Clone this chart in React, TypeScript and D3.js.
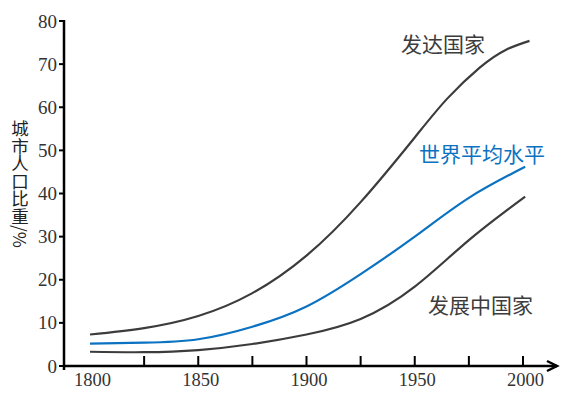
import React from "react";
import * as d3 from "d3";

const years = [1800, 1825, 1850, 1875, 1900, 1925, 1950, 1965, 1980, 1992, 2003];
const developed = [7.3, 8.8, 11.6, 16.9, 25.6, 38.0, 53.0, 62.0, 69.2, 73.3, 75.4];

const worldYears = [1800, 1825, 1850, 1875, 1900, 1925, 1950, 1975, 2001];
const world = [5.2, 5.4, 6.2, 9.1, 13.8, 21.3, 30.0, 39.0, 46.2];

const devYears = [1800, 1825, 1850, 1875, 1900, 1925, 1950, 1975, 2001];
const developing = [3.3, 3.2, 3.7, 5.1, 7.3, 10.9, 18.4, 29.2, 39.3];

const yTicks = [0, 10, 20, 30, 40, 50, 60, 70, 80];
const xLabels = [1800, 1850, 1900, 1950, 2000];
const xTickMarks = [1825, 1850, 1875, 1900, 1925, 1950, 1975, 2000];

const seriesLabels = ["发达国家", "世界平均水平", "发展中国家"];
const yTitle = "城市人口比重/%";

const DARK = "#3c3c3c";
const BLUE = "#0b72c2";
const SERIF = "Liberation Serif, Times New Roman, DejaVu Serif, serif";
const CJK = "Noto Sans CJK SC, Noto Sans, sans-serif";

export default function App() {
  const x = d3.scaleLinear().domain([1800, 2000]).range([90, 523]);
  const y = d3.scaleLinear().domain([0, 80]).range([366, 21]);
  const line = (xs: number[], vs: number[]) =>
    d3
      .line<number>()
      .x((_, i) => x(xs[i]))
      .y((v) => y(v))
      .curve(d3.curveNatural)(vs) as string;

  const axisX0 = 64;
  const arrowX = 557;

  return (
    <svg
      width={570}
      height={402}
      style={{ position: "absolute", left: 0, top: 0, background: "#fff" }}
    >
      <path d={line(years, developed)} fill="none" stroke={DARK} strokeWidth={2.2} />
      <path d={line(worldYears, world)} fill="none" stroke={BLUE} strokeWidth={2.2} />
      <path d={line(devYears, developing)} fill="none" stroke={DARK} strokeWidth={2.2} />

      <line x1={axisX0} y1={y(80) - 1} x2={axisX0} y2={y(0) + 4} stroke="#000" strokeWidth={2.5} />
      {yTicks.map((t) => (
        <g key={t}>
          <line x1={axisX0 - 5} x2={axisX0} y1={y(t)} y2={y(t)} stroke="#000" strokeWidth={2} />
          <text
            x={57}
            y={y(t) + 6.5}
            textAnchor="end"
            style={{ fontFamily: SERIF, fontSize: 19 }}
            fill="#333"
          >
            {t}
          </text>
        </g>
      ))}

      <line x1={axisX0 - 1} y1={y(0)} x2={arrowX} y2={y(0)} stroke="#000" strokeWidth={2.5} />
      <path
        d={`M${arrowX - 10},${y(0) - 5} L${arrowX},${y(0)} L${arrowX - 10},${y(0) + 5}`}
        fill="none"
        stroke="#000"
        strokeWidth={2.5}
      />
      {xTickMarks.map((t) => (
        <line key={t} x1={x(t)} x2={x(t)} y1={y(0)} y2={y(0) - 10} stroke="#000" strokeWidth={2} />
      ))}
      {xLabels.map((t) => (
        <text
          key={t}
          x={x(t) + 2.5}
          y={386}
          textAnchor="middle"
          style={{ fontFamily: SERIF, fontSize: 18.5 }}
          fill="#333"
        >
          {t}
        </text>
      ))}

      <text
        x={20}
        y={120}
        fill="#222"
        style={{ writingMode: "vertical-rl", fontFamily: CJK, fontSize: 17.5 } as any}
      >
        {yTitle}
      </text>

      <text x={401} y={52} style={{ fontFamily: CJK, fontSize: 21 }} fill={DARK}>
        {seriesLabels[0]}
      </text>
      <text x={419} y={162} style={{ fontFamily: CJK, fontSize: 21 }} fill={BLUE}>
        {seriesLabels[1]}
      </text>
      <text x={428} y={313} style={{ fontFamily: CJK, fontSize: 21 }} fill={DARK}>
        {seriesLabels[2]}
      </text>
    </svg>
  );
}
